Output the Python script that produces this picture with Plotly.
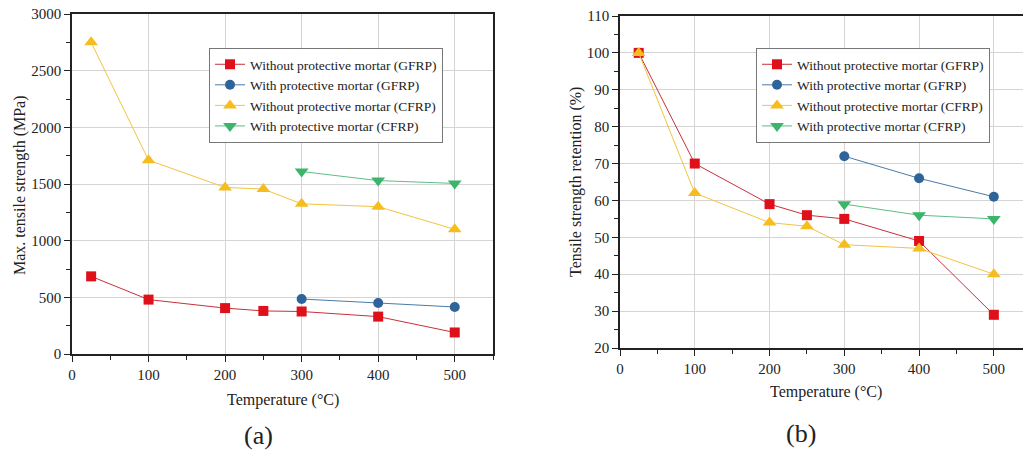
import plotly.graph_objects as go

# ---------------- data ----------------
temps_all = [25, 100, 200, 250, 300, 400, 500]
temps_prot = [300, 400, 500]

names = ["Without protective mortar (GFRP)", "With protective mortar (GFRP)",
         "Without protective mortar (CFRP)", "With protective mortar (CFRP)"]

# (a) Max. tensile strength (MPa)
a_gfrp_without = [685, 480, 405, 380, 375, 330, 190]
a_gfrp_with = [485, 450, 415]
a_cfrp_without = [2750, 1710, 1470, 1455, 1325, 1300, 1100]
a_cfrp_with = [1610, 1530, 1505]

# (b) Tensile strength retention (%)
b_gfrp_without = [100, 70, 59, 56, 55, 49, 29]
b_gfrp_with = [72, 66, 61]
b_cfrp_without = [100, 62, 54, 53, 48, 47, 40]
b_cfrp_with = [59, 56, 55]

colors = ["#E0101A", "#2F649A", "#F5BE1E", "#3BB56A"]
line_colors = ["#C8303C", "#4A7AA8", "#F2C440", "#5DBE82"]
symbols = ["square", "circle", "triangle-up", "triangle-down"]
msizes = [10, 10, 12, 12]

W, H = 1023, 451
FONT = "Liberation Serif"

fig = go.Figure()

series_a = [(temps_all, a_gfrp_without), (temps_prot, a_gfrp_with),
            (temps_all, a_cfrp_without), (temps_prot, a_cfrp_with)]
series_b = [(temps_all, b_gfrp_without), (temps_prot, b_gfrp_with),
            (temps_all, b_cfrp_without), (temps_prot, b_cfrp_with)]

for i, (xs, ys) in enumerate(series_a):
    fig.add_trace(go.Scatter(x=xs, y=ys, mode="lines+markers", name=names[i],
                             xaxis="x", yaxis="y", legend="legend",
                             line=dict(color=line_colors[i], width=1),
                             marker=dict(symbol=symbols[i], size=msizes[i], color=colors[i])))
for i, (xs, ys) in enumerate(series_b):
    fig.add_trace(go.Scatter(x=xs, y=ys, mode="lines+markers", name=names[i],
                             xaxis="x2", yaxis="y2", legend="legend2",
                             line=dict(color=line_colors[i], width=1),
                             marker=dict(symbol=symbols[i], size=msizes[i], color=colors[i])))

def axis_common():
    return dict(showline=True, linecolor="#222", linewidth=1.5, mirror=True,
                ticks="outside", ticklen=6, tickwidth=1.2, tickcolor="#222",
                showgrid=True, gridcolor="#d4d4d4", gridwidth=1, zeroline=False,
                automargin=False,
                tickfont=dict(family=FONT, size=15, color="#222"))

xa = axis_common()
xa.update(domain=[72 / W, 493 / W], range=[0, 550], tickvals=[0, 100, 200, 300, 400, 500],
          minor=dict(dtick=50, ticks="outside", ticklen=4, tickcolor="#222", showgrid=False),
          anchor="y")
ya = axis_common()
ya.update(domain=[1 - 354 / H, 1 - 14 / H], range=[0, 3000], dtick=500,
          minor=dict(dtick=250, ticks="outside", ticklen=4, tickcolor="#222", showgrid=False),
          anchor="x")
xb = axis_common()
xb.update(domain=[620 / W, 1.0], range=[0, 539], tickvals=[0, 100, 200, 300, 400, 500],
          minor=dict(dtick=50, ticks="outside", ticklen=4, tickcolor="#222", showgrid=False),
          anchor="y2")
yb = axis_common()
yb.update(domain=[1 - 348 / H, 1 - 16 / H], range=[20, 110], dtick=10,
          minor=dict(dtick=5, ticks="outside", ticklen=4, tickcolor="#222", showgrid=False),
          anchor="x2")

legend_style = dict(font=dict(family=FONT, size=13.5, color="#222"), bgcolor="rgba(255,255,255,0.95)",
                    bordercolor="#777", borderwidth=1, xanchor="left", yanchor="top",
                    tracegroupgap=0, itemwidth=30)

fig.update_layout(
    width=W, height=H, margin=dict(l=0, r=0, t=0, b=0, pad=0, autoexpand=False),
    paper_bgcolor="white", plot_bgcolor="white",
    font=dict(family=FONT, color="#222"),
    xaxis=xa, yaxis=ya, xaxis2=xb, yaxis2=yb,
    legend=dict(x=209 / W, y=1 - 48 / H, **legend_style),
    legend2=dict(x=756 / W, y=1 - 48 / H, **legend_style),
)

annots = [
    dict(text="Max. tensile strength (MPa)", x=20, y=185, textangle=-90, size=16),
    dict(text="Temperature (°C)", x=283, y=400, textangle=0, size=16),
    dict(text="(a)", x=258, y=435, textangle=0, size=26),
    dict(text="Tensile strength retention (%)", x=576, y=182, textangle=-90, size=16),
    dict(text="Temperature (°C)", x=826, y=392, textangle=0, size=16),
    dict(text="(b)", x=801, y=433, textangle=0, size=26),
]
for a in annots:
    fig.add_annotation(text=a["text"], x=a["x"] / W, y=1 - a["y"] / H, xref="paper", yref="paper",
                       xanchor="center", yanchor="middle", textangle=a["textangle"], showarrow=False,
                       font=dict(family=FONT, size=a["size"], color="#222"))

fig.write_html("out.html")
